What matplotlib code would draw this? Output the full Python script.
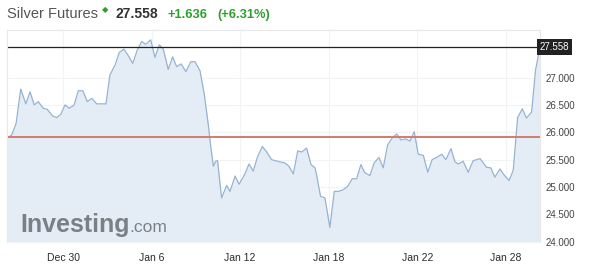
import matplotlib
matplotlib.use("Agg")
from matplotlib import pyplot as plt
from matplotlib.transforms import blended_transform_factory

plt.rcParams['font.family'] = ['Liberation Sans', 'DejaVu Sans']

# position in trading days (0 = Dec 30, weekends removed)
day_pos = [-2.53, -2.32, -2.12, -1.91, -1.68, -1.49, -1.30, -1.12, -0.89, -0.71,
           -0.47, -0.28, -0.10, 0.09, 0.28, 0.50, 0.69, 0.89, 1.10, 1.30,
           1.52, 1.94, 2.12, 2.35, 2.54, 2.75, 2.95, 3.15, 3.35, 3.55,
           3.73, 3.96, 4.15, 4.35, 4.53, 4.75, 4.95, 5.13, 5.33, 5.55,
           5.77, 5.96, 6.19, 6.38, 6.56, 6.68, 6.79, 6.89, 6.98, 7.16,
           7.39, 7.54, 7.77, 7.95, 8.19, 8.40, 8.59, 8.79, 9.00, 9.20,
           9.42, 9.60, 9.80, 10.02, 10.20, 10.40, 10.60, 10.78, 11.00, 11.20,
           11.38, 11.45, 11.63, 11.83, 12.05, 12.25, 12.43, 12.65, 12.85, 13.06,
           13.26, 13.45, 13.63, 13.86, 14.05, 14.27, 14.46, 14.66, 14.87, 15.07,
           15.26, 15.47, 15.67, 15.86, 16.04, 16.27, 16.47, 16.67, 16.87, 17.10,
           17.29, 17.52, 17.70, 17.85, 18.07, 18.30, 18.52, 18.83, 19.13, 19.32,
           19.50, 19.73, 19.92, 20.14, 20.33, 20.53, 20.74, 20.93, 21.16, 21.34,
           21.54]
price = [25.90, 25.95, 26.16, 26.79, 26.52, 26.74, 26.50, 26.56, 26.44, 26.42,
         26.30, 26.27, 26.33, 26.50, 26.44, 26.50, 26.76, 26.76, 26.56, 26.62,
         26.52, 26.52, 27.05, 27.23, 27.46, 27.52, 27.40, 27.26, 27.50, 27.66,
         27.61, 27.69, 27.37, 27.60, 27.52, 27.15, 27.38, 27.20, 27.25, 27.11,
         27.29, 27.29, 27.12, 26.69, 26.14, 25.71, 25.38, 25.47, 25.48, 24.80,
         25.03, 24.92, 25.20, 25.05, 25.22, 25.42, 25.29, 25.56, 25.74, 25.64,
         25.50, 25.48, 25.46, 25.44, 25.38, 25.24, 25.66, 25.64, 25.71, 25.41,
         25.35, 25.22, 24.83, 24.80, 24.26, 24.92, 24.92, 24.95, 25.01, 25.15,
         25.15, 25.41, 25.26, 25.21, 25.44, 25.54, 25.35, 25.77, 25.90, 25.97,
         25.86, 25.88, 25.84, 26.01, 25.60, 25.58, 25.27, 25.50, 25.54, 25.60,
         25.50, 25.70, 25.46, 25.42, 25.47, 25.27, 25.48, 25.52, 25.36, 25.35,
         25.18, 25.33, 25.22, 25.12, 25.30, 26.27, 26.43, 26.26, 26.37, 27.14,
         27.558]

tick_pos = [0, 4, 8, 12, 16, 20]
tick_labels = ["Dec 30", "Jan 6", "Jan 12", "Jan 18", "Jan 22", "Jan 28"]
y_ticks = [24.0, 24.5, 25.0, 25.5, 26.0, 26.5, 27.0]

last_price = 27.558
prev_close = 25.922
change = "+1.636"
change_pct = "(+6.31%)"

W, H = 590, 277
fig = plt.figure(figsize=(W / 100, H / 100), dpi=100)
ax = fig.add_axes([7 / W, 35 / H, 533 / W, 212 / H])

y_bottom, y_top = 23.995, 27.87
ax.fill_between(day_pos, price, y_bottom, color="#e4edf6", lw=0)
ax.plot(day_pos, price, color="#96b3d2", lw=0.9)
ax.axhline(last_price, color="#222222", lw=0.9)
ax.axhline(prev_close, color="#d47a72", lw=1.4)

ax.set_xlim(day_pos[0], day_pos[-1])
ax.set_ylim(y_bottom, y_top)
ax.set_xticks(tick_pos)
ax.set_xticklabels(tick_labels)
ax.set_yticks(y_ticks)
ax.set_yticklabels([f"{v:.3f}" for v in y_ticks])
ax.yaxis.tick_right()
ax.tick_params(axis="x", length=0, pad=8, labelsize=7.5, labelcolor="#2b2b2b")
ax.tick_params(axis="y", length=0, pad=4, labelsize=7, labelcolor="#444444")
ax.grid(True, color="#f1f3f5", lw=0.8)
ax.set_axisbelow(True)
for s in ax.spines.values():
    s.set_color("#e8e8e8")
    s.set_linewidth(0.8)
ax.spines["bottom"].set_visible(False)

# current price label on the axis
trans = blended_transform_factory(ax.transAxes, ax.transData)
ax.text(1.0, last_price, f"{last_price:.3f}", transform=trans, ha="left", va="center",
        fontsize=7, color="white",
        bbox=dict(boxstyle="square,pad=0.3", fc="#222222", ec="none"))

# header
def fx(px):
    return px / W

def fy(py):
    return 1 - py / H

fig.text(fx(7), fy(18), "Silver Futures", fontsize=10.5, color="#555555", va="baseline")
fig.text(fx(102), fy(12), "\u25c6", fontsize=6, color="#2f9e30", va="baseline")
fig.text(fx(115), fy(18), f"{last_price:.3f}", fontsize=10, fontweight="bold",
         color="#333333", va="baseline")
fig.text(fx(168), fy(18), change, fontsize=9.3, fontweight="bold", color="#2f9e30", va="baseline")
fig.text(fx(217), fy(18), change_pct, fontsize=9.3, fontweight="bold", color="#2f9e30", va="baseline")

# watermark
fig.text(fx(20), fy(232), "Investing", fontsize=18, fontweight="bold", color="#7b8086", va="baseline")
fig.text(fx(129), fy(232), ".com", fontsize=12.5, color="#7b8086", va="baseline")

fig.savefig("out.png", dpi=100)
